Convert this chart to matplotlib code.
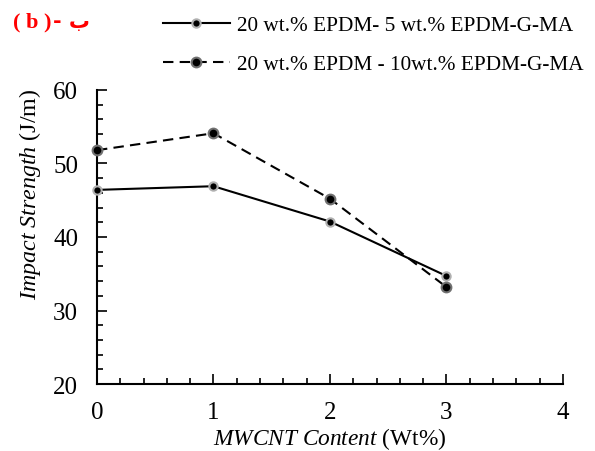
import matplotlib
matplotlib.use("Agg")
import matplotlib.pyplot as plt
from matplotlib.ticker import MultipleLocator

plt.rcParams['font.family'] = ['Liberation Serif', 'DejaVu Sans']
plt.rcParams['mathtext.fontset'] = 'custom'
plt.rcParams['mathtext.rm'] = 'Liberation Serif'
plt.rcParams['mathtext.it'] = 'Liberation Serif:italic'

# MWCNT content (wt%)
mwcnt = [0, 1, 2, 3]
# impact strength (J/m)
epdm_5ma = [46.4, 46.9, 42.1, 34.7]
epdm_10ma = [51.8, 54.1, 45.2, 33.2]
labels = ['20 wt.% EPDM- 5 wt.% EPDM-G-MA', '20 wt.% EPDM - 10wt.% EPDM-G-MA']

fig = plt.figure(figsize=(5.95, 4.52), dpi=100)
ax = fig.add_axes([0.163, 0.148, 0.783, 0.651])

ax.plot(mwcnt, epdm_5ma, color='black', linestyle='-', linewidth=1.5,
        marker='o', markersize=6, markerfacecolor='black',
        markeredgecolor='#b0b0b0', markeredgewidth=1.5, label=labels[0],
        clip_on=False, zorder=3)
ax.plot(mwcnt, epdm_10ma, color='black', linestyle=(0, (5, 3)), linewidth=1.5,
        marker='o', markersize=7, markerfacecolor='black',
        markeredgecolor='#707070', markeredgewidth=1.5, label=labels[1],
        clip_on=False, zorder=3)

ax.set_xlim(0, 4)
ax.set_ylim(20, 60)
ax.xaxis.set_major_locator(MultipleLocator(1))
ax.xaxis.set_minor_locator(MultipleLocator(0.2))
ax.yaxis.set_major_locator(MultipleLocator(10))
ax.yaxis.set_minor_locator(MultipleLocator(2))
ax.tick_params(which='both', direction='in', labelsize=18, width=1.2)
ax.tick_params(which='major', length=7)
ax.tick_params(which='minor', length=4)
ax.tick_params(axis='x', pad=12.5)
ax.tick_params(axis='y', pad=13.5)
for s in ['top', 'right']:
    ax.spines[s].set_visible(False)
for s in ['left', 'bottom']:
    ax.spines[s].set_linewidth(1.5)

ax.set_xlabel(r'$\mathit{MWCNT\ Content}$ (Wt%)', fontsize=16.8)
ax.set_ylabel(r'$\mathit{Impact\ Strength}$ (J/m)', fontsize=17.3)
ax.xaxis.set_label_coords(0.5, -0.138)
ax.yaxis.set_label_coords(-0.116, 0.65)

fig.legend(loc='upper left', bbox_to_anchor=(0.274, 0.964), frameon=False,
           fontsize=15.3, handlelength=3.15, handletextpad=0.33,
           labelspacing=0.9, borderpad=0, borderaxespad=0)

fig.text(0.022, 0.951, '( b )', color='red', fontsize=16, fontweight='bold',
         ha='left', va='center')
fig.text(0.089, 0.951, '- ب', color='red', fontsize=15, fontweight='bold',
         ha='left', va='center', family=['DejaVu Sans'])

fig.savefig('out.png', dpi=100)
